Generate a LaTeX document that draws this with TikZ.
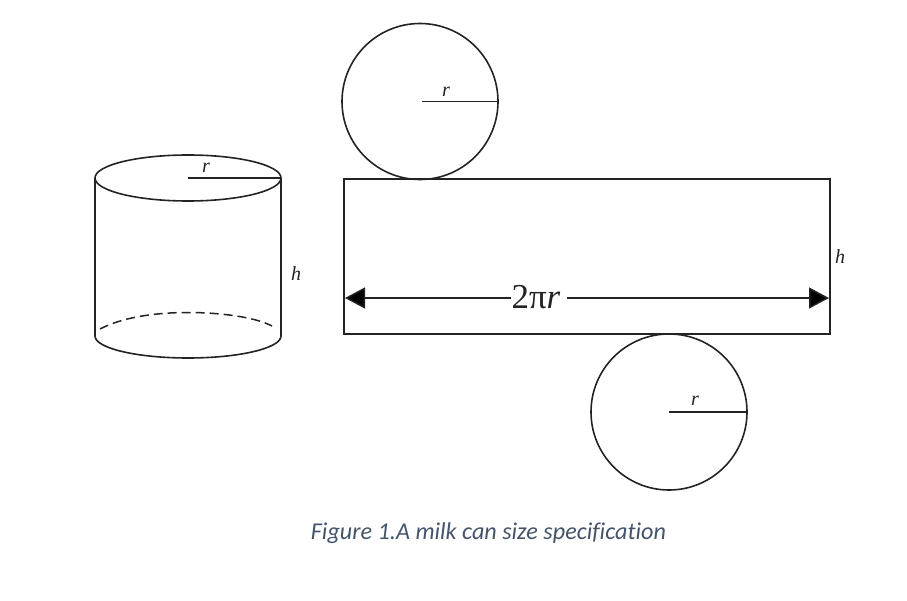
\documentclass[tikz,border=0pt]{standalone}
\usepackage{fontspec}
\setmainfont{Liberation Serif}
\newfontfamily\capfont[Ligatures=NoCommon]{Carlito}
\usetikzlibrary{arrows.meta,calc}
\definecolor{capblue}{RGB}{68,84,106}
\definecolor{inkc}{RGB}{35,35,35}
\tikzset{
  shapeline/.style={draw=inkc,line width=1.6pt},
  thinline/.style={draw=inkc,line width=1.5pt},
  disc/.style={circle,shapeline,minimum size=156pt,inner sep=0pt},
  symb/.style={inner sep=0pt,text=inkc,font=\fontsize{20}{20}\selectfont\itshape}
}
\begin{document}
\begin{tikzpicture}[x=1pt,y=-1pt]
\useasboundingbox (0,0) rectangle (907,601);
% net
\node[disc] (topdisc) at (420,101.5) {};
\node[disc] (botdisc) at (669,412) {};
\node[shapeline,outer sep=0pt,minimum width=486pt,minimum height=155pt,inner sep=0pt,anchor=north west] (sheet) at (344,179) {};
\coordinate (topc) at (422,101.5);
\coordinate (botc) at (669,412);
\draw[thinline] (topc) -- (topdisc.east);
\draw[thinline] (botc) -- (botdisc.east);
\node[symb] (rtop) at (446,92) {r};
\node[symb] (rbot) at (695,401) {r};
\node[symb] (hnet) at (840,257) {h};
% dimension arrow
\coordinate (dimL) at (345,298);
\coordinate (dimR) at (829,298);
\node[inner sep=0pt,font=\fontsize{35}{35}\selectfont,text=inkc] (dimlabel) at (536,297) {2π\textit{r}};
\draw[thinline,{Triangle[length=20pt,width=21pt,fill=black]}-] (dimL) -- (dimlabel.west |- dimL);
\draw[thinline,-{Triangle[length=20pt,width=21pt,fill=black]}] ($(dimlabel.east |- dimR)+(6,0)$) -- (dimR);
% cylinder
\coordinate (cTL) at (95,178);
\coordinate (cTR) at (281,178);
\coordinate (cBL) at (95,336);
\coordinate (cBR) at (281,336);
\coordinate (cTC) at (188,178);
\coordinate (cBC) at (188,336);
\draw[shapeline] (cTC) ellipse [x radius=93,y radius=23];
\draw[shapeline] (cBL) arc [start angle=180,end angle=0,x radius=93,y radius=22];
\draw[thinline,dash pattern=on 9pt off 5pt] (100,329) .. controls (125,316) and (160,312.5) .. (188,312.5) .. controls (220,312.5) and (255,317) .. (272,326);
\draw[shapeline] (cTL) -- (cBL);
\draw[shapeline] (cTR) -- (cBR);
\draw[thinline] (cTC) -- (cTR);
\node[symb] (rcyl) at (206,168) {r};
\node[symb] (hcyl) at (296,274) {h};
% caption
\node[inner sep=0pt,text=capblue,font=\capfont\itshape\fontsize{24.15}{24.15}\selectfont] (caption) at (488.5,533) {Figure 1.A milk can size specification};
\end{tikzpicture}
\end{document}
